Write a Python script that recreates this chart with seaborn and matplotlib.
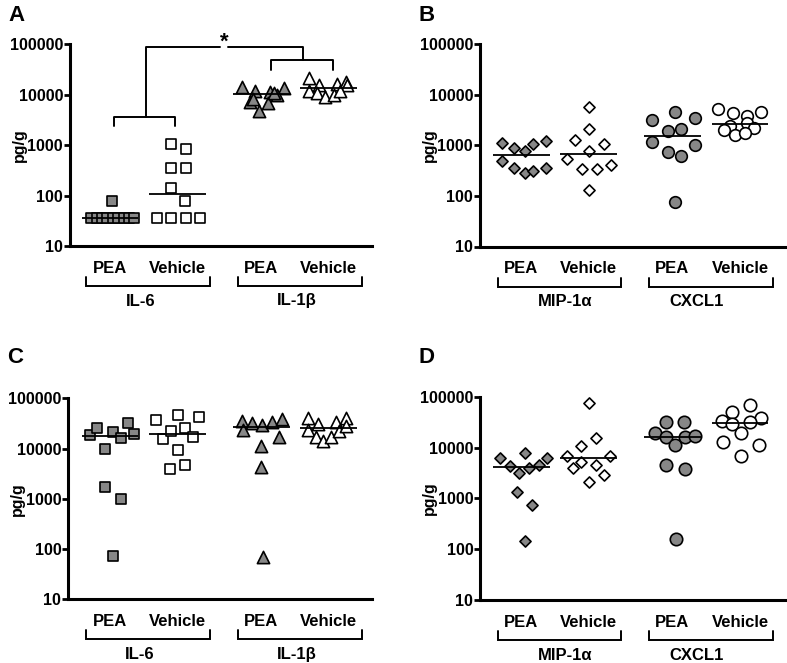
import numpy as np
import pandas as pd
import matplotlib
matplotlib.use("Agg")
import matplotlib.pyplot as plt
import seaborn as sns
from matplotlib.transforms import blended_transform_factory
from matplotlib.ticker import FixedLocator, FixedFormatter, NullLocator

# ---------------- data ----------------
treatments = ["PEA", "Vehicle"]
analytes_ac = ["IL-6", "IL-1β"]
analytes_bd = ["MIP-1α", "CXCL1"]
y_ticks = [10, 100, 1000, 10000, 100000]
y_tick_labels = ["10", "100", "1000", "10000", "100000"]
y_label = "pg/g"
panel_letters = ["A", "B", "C", "D"]

# Panel A
a_il6_pea = [36, 36, 36, 36, 36, 36, 36, 36, 36, 78]
a_il6_pea_dx = [-0.28, -0.20, -0.12, -0.04, 0.04, 0.12, 0.20, 0.28, 0.36, 0.03]
a_il6_veh = [1040, 840, 360, 360, 140, 78, 36, 36, 36, 36]
a_il6_veh_dx = [-0.10, 0.12, -0.10, 0.12, -0.10, 0.11, -0.31, -0.10, 0.12, 0.33]
a_il1b_pea = [14000, 12000, 11500, 13400, 9860, 7270, 6950, 4820, 8110, 10800]
a_il1b_pea_dx = [-0.28, -0.09, 0.13, 0.34, 0.24, -0.17, 0.10, -0.04, -0.12, 0.19]
a_il1b_veh = [21200, 15600, 16300, 18100, 15600, 12000, 11000, 8890, 9870, 12000]
a_il1b_veh_dx = [-0.29, -0.14, 0.12, 0.26, 0.27, -0.29, -0.17, -0.06, 0.08, 0.16]

# Panel B
b_mip_pea = [1137, 906, 790, 1055, 1247, 494, 354, 282, 318, 354]
b_mip_pea_dx = [-0.28, -0.11, 0.05, 0.18, 0.36, -0.28, -0.11, 0.05, 0.18, 0.36]
b_mip_veh = [5860, 2120, 1285, 1055, 790, 533, 343, 343, 411, 132]
b_mip_veh_dx = [0.01, 0.01, -0.21, 0.22, 0.01, -0.33, -0.10, 0.12, 0.33, 0.01]
b_cxcl_pea = [3190, 4650, 3540, 1935, 2090, 1190, 1020, 754, 628, 77]
b_cxcl_pea_dx = [-0.30, 0.03, 0.34, -0.07, 0.13, -0.30, 0.34, -0.07, 0.13, 0.03]
b_cxcl_veh = [5260, 4330, 3830, 4650, 2460, 2750, 2250, 2020, 1610, 1740]
b_cxcl_veh_dx = [-0.32, -0.11, 0.10, 0.31, -0.15, 0.11, 0.21, -0.23, -0.07, 0.08]

# Panel C
c_il6_pea = [18600, 26000, 21700, 16400, 32700, 19500, 9660, 1690, 977, 73]
c_il6_pea_dx = [-0.29, -0.19, 0.05, 0.16, 0.26, 0.36, -0.07, -0.07, 0.16, 0.05]
c_il6_veh = [37000, 46500, 41900, 15300, 22300, 25300, 17200, 9350, 3860, 4710]
c_il6_veh_dx = [-0.32, 0.00, 0.32, -0.21, -0.10, 0.11, 0.23, 0.00, -0.11, 0.11]
c_il1b_pea = [35300, 31800, 29400, 34300, 38700, 23400, 17200, 11400, 4350, 70]
c_il1b_pea_dx = [-0.28, -0.14, 0.01, 0.16, 0.31, -0.27, 0.27, 0.00, 0.00, 0.02]
c_il1b_veh = [41100, 30400, 34300, 40000, 23400, 17200, 14100, 17200, 22300, 28500]
c_il1b_veh_dx = [-0.30, -0.16, 0.11, 0.25, -0.30, -0.19, -0.09, 0.03, 0.15, 0.26]

# Panel D
d_mip_pea = [6310, 7910, 6310, 4330, 3200, 4010, 4530, 1352, 739, 145]
d_mip_pea_dx = [-0.31, 0.05, 0.38, -0.17, -0.04, 0.11, 0.26, -0.06, 0.16, 0.05]
d_mip_veh = [76300, 15100, 10900, 6910, 6910, 3890, 5260, 4530, 2130, 2880]
d_mip_veh_dx = [0.00, 0.10, -0.12, -0.32, 0.31, -0.23, -0.12, 0.10, 0.00, 0.22]
d_cxcl_pea = [32200, 32200, 19000, 16300, 11200, 16300, 16800, 4530, 3780, 156]
d_cxcl_pea_dx = [-0.10, 0.17, -0.26, -0.10, 0.04, 0.19, 0.34, -0.10, 0.19, 0.05]
d_cxcl_veh = [68500, 50700, 33200, 38600, 28600, 32200, 19000, 12600, 11200, 6910]
d_cxcl_veh_dx = [0.15, -0.12, -0.26, 0.31, -0.12, 0.15, 0.02, -0.25, 0.28, 0.02]

# ---------------- style ----------------
sns.set_style("ticks")
plt.rcParams["font.family"] = ["Liberation Sans", "DejaVu Sans"]
plt.rcParams["font.weight"] = "bold"
for key in ["text.color", "axes.labelcolor", "xtick.color", "ytick.color",
            "axes.edgecolor"]:
    plt.rcParams[key] = "black"

GREY = "#878787"
WHITE = "#ffffff"
FIG_W, FIG_H = 787, 663
UNIT_PX = 67.5
cat_pos = [0.0, 1.0, 2.24, 3.24]

fig = plt.figure(figsize=(FIG_W / 100, FIG_H / 100), dpi=100)


def add_axes_px(l, t, r, b):
    return fig.add_axes([l / FIG_W, 1 - b / FIG_H, (r - l) / FIG_W, (b - t) / FIG_H])


def draw_panel(rect, pea_px, groups, analytes, group_label_x, letter, letter_xy):
    l, t, r, b = rect
    ax = add_axes_px(l, t, r, b)
    ax_h = b - t
    rows = []
    for gi, (vals, dx, marker, size, fill) in enumerate(groups):
        for v, d in zip(vals, dx):
            rows.append({"group": gi, "x": cat_pos[gi] + d, "y": v})
    df = pd.DataFrame(rows)
    for gi, (vals, dx, marker, size, fill) in enumerate(groups):
        sub = df[df["group"] == gi]
        sns.scatterplot(data=sub, x="x", y="y", marker=marker, s=size, color=fill,
                        edgecolor="black", linewidth=1.2, ax=ax, legend=False,
                        zorder=3, clip_on=False)
        med = float(np.median(vals))
        ax.hlines(med, cat_pos[gi] - 0.42, cat_pos[gi] + 0.42, color="black",
                  lw=1.3, zorder=4)
    ax.set_yscale("log")
    ax.set_ylim(10, 100000)
    ax.set_xlim((l - pea_px) / UNIT_PX, (r - pea_px) / UNIT_PX)
    ax.yaxis.set_major_locator(FixedLocator(y_ticks))
    ax.yaxis.set_major_formatter(FixedFormatter(y_tick_labels))
    ax.yaxis.set_minor_locator(NullLocator())
    ax.set_xticks([])
    ax.set_xlabel("")
    ax.set_ylabel(y_label, fontsize=11.5, fontweight="bold")
    ax.yaxis.set_label_coords((27 - 70) / (r - l), 0.5)
    for s in ["top", "right"]:
        ax.spines[s].set_visible(False)
    for s in ["left", "bottom"]:
        ax.spines[s].set_linewidth(2.2)
        ax.spines[s].set_color("black")
    ax.tick_params(axis="y", which="major", length=4, width=2.0, pad=1,
                   labelsize=11.5, direction="out", colors="black")
    for lab in ax.get_yticklabels():
        lab.set_fontweight("bold")

    tr = blended_transform_factory(ax.transData, ax.transAxes)
    # treatment labels
    for gi in range(4):
        ax.text(cat_pos[gi], -22.3 / ax_h, treatments[gi % 2], transform=tr,
                ha="center", va="center", fontsize=12, fontweight="bold",
                clip_on=False)
    # brackets under the axis
    for (x0, x1) in [(-0.35, 1.48), (1.89, 3.73)]:
        ax.plot([x0, x0, x1, x1], [-31 / ax_h, -40 / ax_h, -40 / ax_h, -31 / ax_h],
                transform=tr, color="black", lw=1.4, clip_on=False,
                solid_joinstyle="miter")
    for k in range(2):
        ax.text(group_label_x[k], -55 / ax_h, analytes[k], transform=tr,
                ha="center", va="center", fontsize=12, fontweight="bold",
                clip_on=False)
    fig.text(letter_xy[0] / FIG_W, 1 - letter_xy[1] / FIG_H, letter,
             fontsize=16, fontweight="bold", ha="left", va="baseline")
    return ax


sq, tri, dia, cir = "s", "^", "D", "o"
S_SQ, S_TRI, S_DIA, S_CIR = 62, 78, 32, 70

ax_a = draw_panel((70, 44.3, 372, 246), 110,
                  [(a_il6_pea, a_il6_pea_dx, sq, S_SQ, GREY),
                   (a_il6_veh, a_il6_veh_dx, sq, S_SQ, WHITE),
                   (a_il1b_pea, a_il1b_pea_dx, tri, S_TRI, GREY),
                   (a_il1b_veh, a_il1b_veh_dx, tri, S_TRI, WHITE)],
                  analytes_ac, [0.46, 2.76], "A", (8, 21))
ax_b = draw_panel((480, 44.3, 785, 246.5), 521.3,
                  [(b_mip_pea, b_mip_pea_dx, dia, S_DIA, GREY),
                   (b_mip_veh, b_mip_veh_dx, dia, S_DIA, WHITE),
                   (b_cxcl_pea, b_cxcl_pea_dx, cir, S_CIR, GREY),
                   (b_cxcl_veh, b_cxcl_veh_dx, cir, S_CIR, WHITE)],
                  analytes_bd, [0.655, 2.59], "B", (419, 21))
ax_c = draw_panel((68.3, 398.3, 371.7, 599.3), 110,
                  [(c_il6_pea, c_il6_pea_dx, sq, S_SQ, GREY),
                   (c_il6_veh, c_il6_veh_dx, sq, S_SQ, WHITE),
                   (c_il1b_pea, c_il1b_pea_dx, tri, S_TRI, GREY),
                   (c_il1b_veh, c_il1b_veh_dx, tri, S_TRI, WHITE)],
                  analytes_ac, [0.44, 2.77], "C", (7, 363))
ax_d = draw_panel((480.3, 396.7, 786, 600), 521.3,
                  [(d_mip_pea, d_mip_pea_dx, dia, S_DIA, GREY),
                   (d_mip_veh, d_mip_veh_dx, dia, S_DIA, WHITE),
                   (d_cxcl_pea, d_cxcl_pea_dx, cir, S_CIR + 10, GREY),
                   (d_cxcl_veh, d_cxcl_veh_dx, cir, S_CIR + 10, WHITE)],
                  analytes_bd, [0.65, 2.59], "D", (419, 363))

# significance brackets in panel A
sig_lw = 1.4
ax_a.plot([0.06, 0.06, 0.96, 0.96], [2400, 3660, 3660, 2400], color="black",
          lw=sig_lw, clip_on=False)
ax_a.plot([2.38, 2.38, 3.30, 3.30], [30900, 48900, 48900, 30900], color="black",
          lw=sig_lw, clip_on=False)
ax_a.plot([0.53, 0.53, 1.63], [3660, 89600, 89600], color="black", lw=sig_lw,
          clip_on=False)
ax_a.plot([1.75, 2.86, 2.86], [89600, 89600, 48900], color="black", lw=sig_lw,
          clip_on=False)
ax_a.text(1.69, 84000, "*", ha="center", va="baseline", fontsize=16,
          fontweight="bold", clip_on=False)

fig.savefig("out.png", dpi=100)
